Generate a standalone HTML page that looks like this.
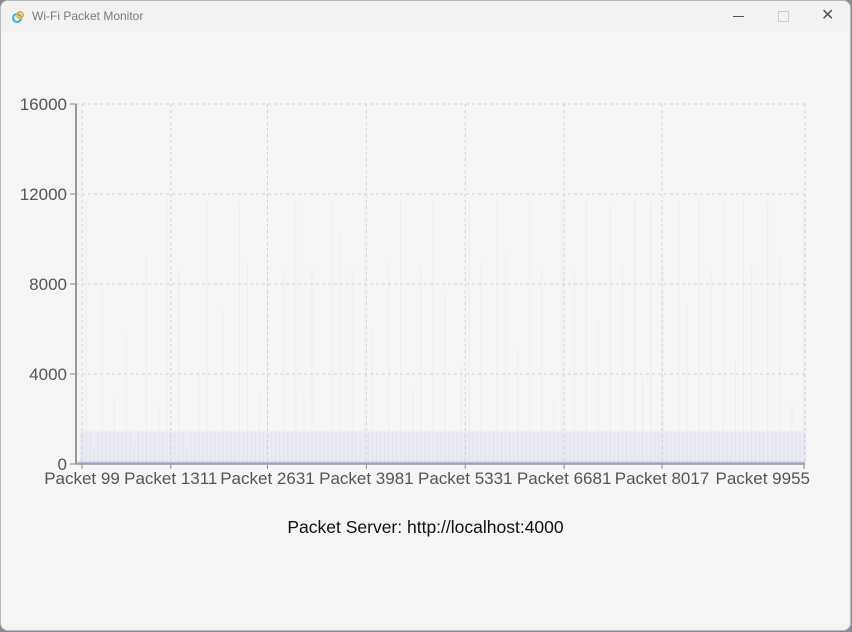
<!DOCTYPE html>
<html><head><meta charset="utf-8"><style>
html,body{margin:0;padding:0;width:852px;height:632px;overflow:hidden;background:#8a8890;font-family:"Liberation Sans",sans-serif}
#win{position:absolute;left:0;top:0;width:851px;height:631px;background:#f5f5f5;border:1px solid #b9b9bd;border-radius:8px;overflow:hidden;box-sizing:border-box}
#bar{position:absolute;left:0;top:0;width:100%;height:31px;background:#f2f2f2}
#title{position:absolute;left:31px;top:8px;font-size:12px;color:#7a7a7a}
#footer{position:absolute;left:0;width:100%;top:516px;text-align:center;font-size:17.5px;color:#111}
</style></head><body>
<div id="win">
<div id="bar">
<svg width="14" height="14" style="position:absolute;left:10px;top:9px"><circle cx="6" cy="8" r="4" fill="none" stroke="#2cb3e8" stroke-width="2"/><circle cx="9" cy="5" r="3" fill="none" stroke="#f2b51d" stroke-width="2"/></svg>
<div id="title">Wi-Fi Packet Monitor</div>
<div style="position:absolute;left:732px;top:15px;width:11px;height:1px;background:#555"></div>
<div style="position:absolute;left:777px;top:10px;width:9px;height:9px;border:1px solid #ccc"></div>
<div style="position:absolute;left:820px;top:4px;font-size:16px;color:#555">✕</div>
</div>
<svg id="chart" width="852" height="632" style="position:absolute;left:0;top:0"></svg>
<div id="footer">Packet Server: http://localhost:4000</div>
</div>
<script>
const tickPackets=[99,1311,2631,3981,5331,6681,8017,9955];
const yTicks=[0,4000,8000,12000,16000];
const sizes=[1450,11700,1450,600,1450,7800,1450,1450,3000,1450,1450,5800,1450,800,1450,1450,9200,1450,1450,2600,
1450,11800,1450,1450,8700,1450,700,1450,1450,4200,1450,11700,1450,1450,1450,6800,1450,1450,1450,11600,
1450,9000,1450,1450,3100,1450,8800,1450,1450,1450,8600,1450,1450,11700,1450,2900,1450,8800,1450,1450,
1450,1450,11700,1450,10300,1450,1450,8700,1450,1450,11800,1450,6000,1450,1450,1450,8900,1450,1450,11700,
1450,1450,3300,1450,8800,1450,1450,11700,1450,1450,7600,1450,1450,1450,4400,1450,11600,1450,1450,8900,
1450,1450,1450,11700,1450,9300,1450,1450,5200,1450,1450,11700,1450,1450,8700,1450,1450,2800,1450,11800,
1450,1450,8700,1450,1450,11700,1450,1450,6300,1450,1450,11600,1450,1450,8800,1450,1450,11700,1450,3800,
1450,11700,1450,1450,8900,1450,1450,1450,11700,1450,7000,1450,1450,11800,1450,1450,8600,1450,1450,11700,
1450,1450,4600,1450,11700,1450,8800,1450,1450,1450,11600,1450,1450,9100,1450,1450,2700,1450,1450,11700];
const svgNS="http://www.w3.org/2000/svg",svg=document.getElementById('chart');
const X0=75,X1=804,Y0=463,Y1=103,P0=99,P1=9955,px0=81,px1=803;
const x=p=>px0+(p-P0)/(P1-P0)*(px1-px0);
const y=v=>Y0-(v/16000)*(Y0-Y1);
function mk(t,a){const e=document.createElementNS(svgNS,t);for(const k in a)e.setAttribute(k,a[k]);svg.appendChild(e);return e;}
const step=(P1-P0)/(sizes.length-1);
const bw=(px1-px0)/sizes.length;
sizes.forEach((v,i)=>{const p=P0+i*step;
const r2=mk('rect',{x:x(p)-bw/2,y:y(1450),width:bw,height:Y0-y(1450),fill:'rgba(140,140,230,0.09)'});


const r=mk('rect',{x:x(p)-0.5,y:y(v),width:1,height:Y0-y(v),fill:'rgba(140,140,230,0.09)'});

});
yTicks.forEach(v=>{if(v>0){const l=mk('line',{x1:X0,x2:X1,y1:y(v),y2:y(v),stroke:'#cfcfcf','stroke-dasharray':'3,3'});

}
const t=mk('text',{x:66,y:y(v)+6,'text-anchor':'end','font-size':'17',fill:'#555','font-family':'Liberation Sans, sans-serif'});t.textContent=v;


mk('line',{x1:69,x2:X0,y1:y(v),y2:y(v),stroke:'#888'});});
tickPackets.forEach((p,i)=>{const last=i===tickPackets.length-1;if(!last){const l=mk('line',{x1:x(p),x2:x(p),y1:Y1,y2:Y0,stroke:'#cfcfcf','stroke-dasharray':'3,3'});

}
mk('line',{x1:x(p),x2:x(p),y1:Y0,y2:Y0+5,stroke:'#888'});
const t=mk('text',{x:last?809:x(p),y:483,'text-anchor':last?'end':'middle','font-size':'17',fill:'#555','font-family':'Liberation Sans, sans-serif'});t.textContent='Packet '+p;

});
mk('line',{x1:X1,x2:X1,y1:Y1,y2:Y0,stroke:'#cfcfcf','stroke-dasharray':'3,3'});
mk('line',{x1:X0,x2:X1,y1:Y1,y2:Y1,stroke:'#cfcfcf','stroke-dasharray':'3,3'});
mk('line',{x1:X0,x2:X0,y1:Y1,y2:Y0,stroke:'#999','stroke-width':2});
mk('line',{x1:X0,x2:X1,y1:Y0,y2:Y0,stroke:'#999','stroke-width':1.5});
mk('line',{x1:X0,x2:X1,y1:Y0-1.5,y2:Y0-1.5,stroke:'rgba(130,130,230,0.4)','stroke-width':2});
</script>
</body></html>
